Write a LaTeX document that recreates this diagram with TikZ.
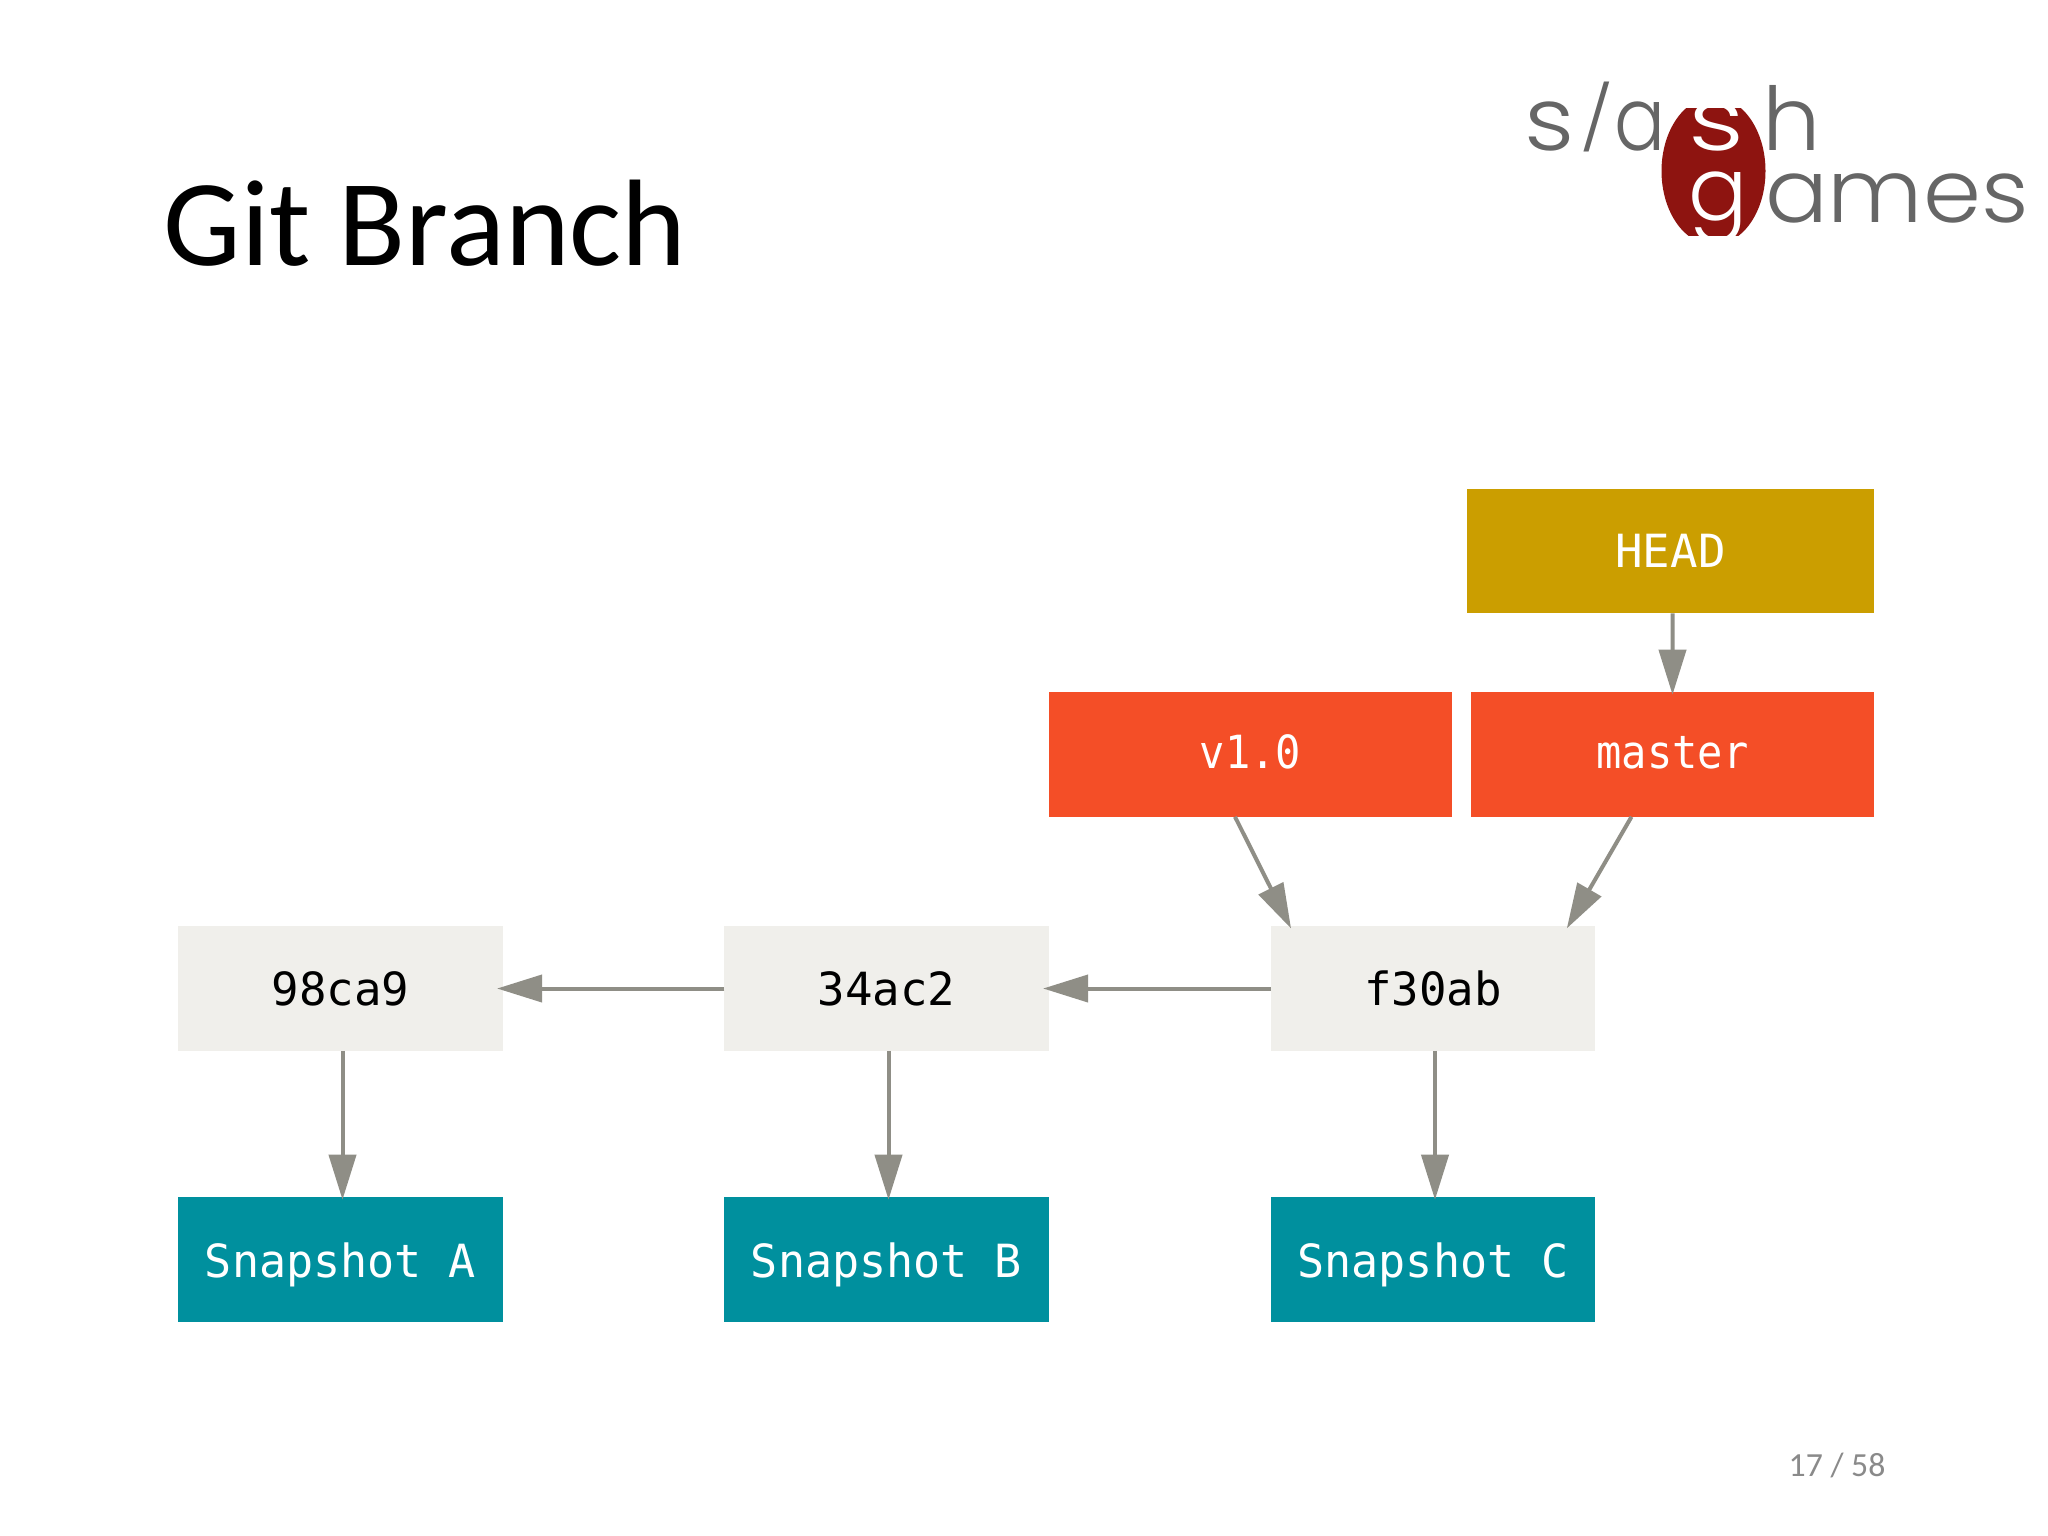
\documentclass[tikz,border=0pt]{standalone}
\usepackage{graphicx}
\usepackage{fontspec}
\setmainfont{Carlito}
\newfontfamily\monof{DejaVu Sans Mono}
\newfontfamily\logof{Poppins Light}
\usetikzlibrary{arrows.meta}
\definecolor{headc}{HTML}{CB9E00}
\definecolor{redc}{HTML}{F44E27}
\definecolor{tealc}{HTML}{00909E}
\definecolor{commitc}{HTML}{F0EFEB}
\definecolor{arrowc}{HTML}{8F8E86}
\definecolor{logog}{HTML}{666666}
\definecolor{logor}{HTML}{8E1410}
\definecolor{pagec}{HTML}{8A8A8A}
\newcommand{\monolabel}[2]{\fontsize{13pt}{15pt}\monof\scalebox{#1}[1]{#2}}
\tikzset{
  x=0.01cm,y=-0.01cm,
  boxbase/.style={rectangle,draw=none,inner sep=0pt,outer sep=0pt,minimum height=1.245cm,text depth=0pt},
  commitbox/.style={boxbase,fill=commitc,minimum width=3.24cm,text=black,text height=.33cm},
  snapbox/.style={boxbase,fill=tealc,minimum width=3.24cm,text=white,text height=.35cm},
  headbox/.style={boxbase,fill=headc,minimum width=4.07cm,text=white,text height=.33cm},
  refbox/.style={boxbase,fill=redc,minimum width=4.03cm,text=white,text height=.285cm},
  conn/.style={draw=arrowc,line width=.04cm,shorten >=-.025cm,-{Triangle[length=.45cm,width=.27cm,fill=arrowc]}},
  logotext/.style={inner sep=0pt,outer sep=0pt,anchor=base west,font=\logof\fontsize{25pt}{25pt}\selectfont},
}
\begin{document}
\begin{tikzpicture}
\useasboundingbox (0,0) rectangle (2048,1536);
\fill[white] (0,0) rectangle (2048,1536);
\node[inner sep=0pt,anchor=base west,font=\fontsize{35pt}{40pt}\selectfont] (title) at (163,265) {Git Branch};
% logo
\begin{scope}
\clip (1650,108) rectangle (1780,235);
\fill[logor] (1713.5,171) ellipse [x radius=52,y radius=74];
\end{scope}
\node[logotext,text=logog] (logos1) at (1524,150) {\scalebox{1.12}[1]{s}};
\node[logotext,text=logog] (logoslash) at (1580,141) {\scalebox{.85}[.72]{/}};
\node[logotext,text=logog] (logoa) at (1614,150) {\scalebox{.86}[1]{a}};
\node[logotext,text=logog] (logoh) at (1762,150) {\scalebox{1.05}[1]{h}};
\node[logotext,text=white] (logos) at (1688,150) {\scalebox{1.25}[1]{s}};
\node[logotext,text=white] (logog) at (1688,220) {\scalebox{1}[1]{g}};
\node[logotext,text=logog] (logoames) at (1765,222) {\scalebox{1.06}[1]{ames}};
% boxes
\node[headbox] (head) at (1670.5,551) {\monolabel{1}{HEAD}};
\node[refbox] (v) at (1250.5,754.5) {\monolabel{.92}{v1.0}};
\node[refbox] (m) at (1672.5,754.5) {\monolabel{.92}{master}};
\node[commitbox] (c1) at (340.5,988.5) {\monolabel{1}{98ca9}};
\node[commitbox] (c2) at (886.5,988.5) {\monolabel{1}{34ac2}};
\node[commitbox] (c3) at (1433,988.5) {\monolabel{1}{f30ab}};
\node[snapbox] (s1) at (340.5,1259.5) {\monolabel{.985}{Snapshot A}};
\node[snapbox] (s2) at (886.5,1259.5) {\monolabel{.985}{Snapshot B}};
\node[snapbox] (s3) at (1433,1259.5) {\monolabel{.985}{Snapshot C}};
% connectors
\draw[conn] ([xshift=.02cm]head.south) -- ([xshift=0cm]m.north);
\draw[conn] ([xshift=1.86cm]v.south west) -- ([xshift=.19cm]c3.north west);
\draw[conn] ([xshift=1.605cm]m.south west) -- ([xshift=-.27cm]c3.north east);
\draw[conn] (c3.west) -- ([xshift=-.03cm]c2.east);
\draw[conn] (c2.west) -- ([xshift=-.03cm]c1.east);
\draw[conn] ([xshift=.02cm]c1.south) -- ([xshift=.02cm]s1.north);
\draw[conn] ([xshift=.02cm]c2.south) -- ([xshift=.02cm]s2.north);
\draw[conn] ([xshift=.02cm]c3.south) -- ([xshift=.02cm]s3.north);
\node[inner sep=0pt,text=pagec,font=\fontsize{9.6pt}{11pt}\selectfont] (page) at (1837,1465) {17 / 58};
\end{tikzpicture}
\end{document}
